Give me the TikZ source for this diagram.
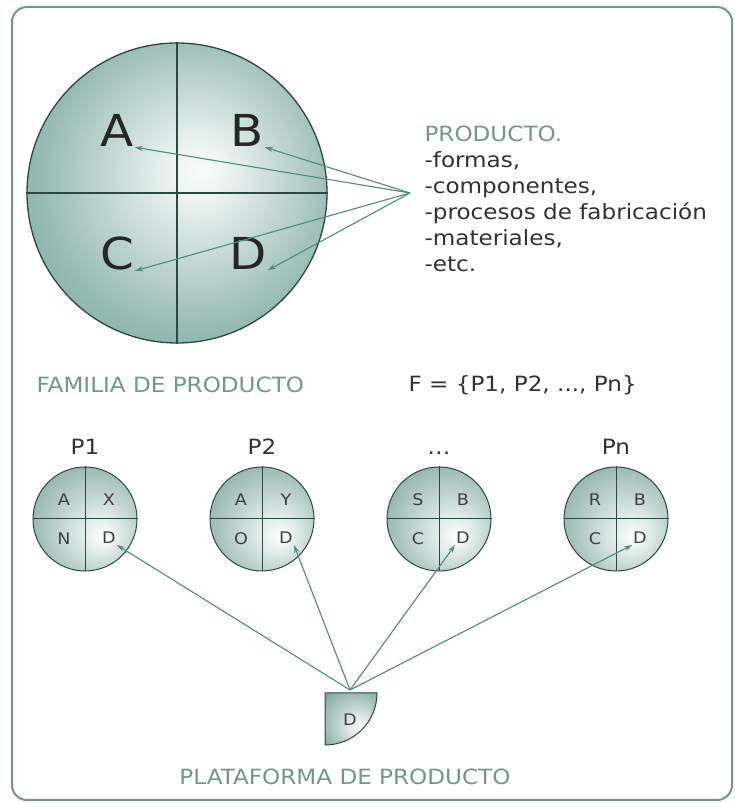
\documentclass[tikz,border=0pt]{standalone}
\usepackage{fontspec}
\setmainfont[FakeStretch=1.1]{DejaVu Sans}
\usetikzlibrary{arrows.meta}
\definecolor{famgreen}{RGB}{92,150,136}
\definecolor{famline}{RGB}{45,72,64}
\definecolor{famtext}{RGB}{110,152,140}
\definecolor{txtgray}{RGB}{50,50,50}
\definecolor{arrgreen}{RGB}{80,140,124}
\pgfdeclareradialshading{bigdisc}{\pgfpoint{4bp}{4bp}}{color(0bp)=(white!96!famgreen); color(5bp)=(white!88!famgreen); color(25bp)=(famgreen!65!white); color(50bp)=(famgreen)}
\pgfdeclareradialshading{smalldisc}{\pgfpoint{9bp}{-9bp}}{color(0bp)=(white); color(5bp)=(white!90!famgreen); color(50bp)=(famgreen!90!black)}
\begin{document}
\begin{tikzpicture}[x=1pt,y=1pt,
    lbl/.style={font=\fontsize{21}{26}\selectfont, text=txtgray},
    caption/.style={font=\fontsize{21}{26}\selectfont, text=famtext},
    bigletter/.style={font=\fontsize{44}{44}\selectfont, text=black!85, inner sep=1pt},
    smallletter/.style={font=\fontsize{16}{16}\selectfont, text=black!75, inner sep=1pt},
    disc/.style={circle, inner sep=0pt, minimum size=104pt, shade, shading=smalldisc, draw=famline, line width=1pt},
    pointer/.style={->, >={Stealth[length=8pt,width=5pt]}, draw=arrgreen, line width=1.1pt}]
    \useasboundingbox (0,0) rectangle (734,803);
    \draw[famtext, line width=2pt, rounded corners=15pt] (12,3) rectangle (732,796);
    % producto
    \node[circle, inner sep=0pt, minimum size=300pt, shade, shading=bigdisc,
        draw=famline, line width=1.3pt] (fam) at (177,610) {};
    \draw[famline, line width=1.3pt] (fam.north) -- (fam.south) (fam.west) -- (fam.east);
    \node[bigletter] (A) at (117,673) {A};
    \node[bigletter] (B) at (247,673) {B};
    \node[bigletter] (C) at (117,550) {C};
    \node[bigletter] (D) at (248,550) {D};
    \node[lbl, anchor=north west, align=left] (prod) at (421,681)
        {\textcolor{famtext}{PRODUCTO.}\\-formas,\\-componentes,\\-procesos de fabricación\\-materiales,\\-etc.};
    \coordinate (src) at (410,610);
    \foreach \q in {A,B,C,D}
        \draw[pointer] (src) -- (\q.south east);
    \node[caption, anchor=west] (familia) at (33,418) {FAMILIA DE PRODUCTO};
    \node[lbl, anchor=west] (set) at (405,418) {F = \{P1, P2, ..., Pn\}};
    % familia
    \foreach \n/\x/\lab/\a/\b/\c in {1/85/P1/A/X/N, 2/262/P2/A/Y/O, 3/439/\ldots/S/B/C, n/616/Pn/R/B/C} {
        \node[disc] (p\n) at (\x,284) {};
        \draw[famline, line width=1pt] (p\n.north) -- (p\n.south) (p\n.west) -- (p\n.east);
        \node[lbl, anchor=base] (l\n) at (\x,348) {\lab};
        \node[smallletter] (a\n) at ([shift={(-21,19)}]p\n) {\a};
        \node[smallletter] (b\n) at ([shift={(24,19)}]p\n) {\b};
        \node[smallletter] (c\n) at ([shift={(-21,-20)}]p\n) {\c};
        \node[smallletter] (d\n) at ([shift={(24,-19)}]p\n) {D};
    }
    % plataforma
    \shade[shading=smalldisc, draw=famline, line width=1pt] (325,110) -- (377,110) arc (0:-90:52) -- cycle;
    \node[smallletter] (dp) at (350,83) {D};
    \coordinate (plat) at (350,113);
    \draw[pointer] (plat) -- (d1.south east);
    \draw[pointer] (plat) -- (d2.south east);
    \draw[pointer] (plat) -- (d3.south west);
    \draw[pointer] (plat) -- (dn.south west);
    \node[caption] (plataforma) at (345,26) {PLATAFORMA DE PRODUCTO};
\end{tikzpicture}
\end{document}
